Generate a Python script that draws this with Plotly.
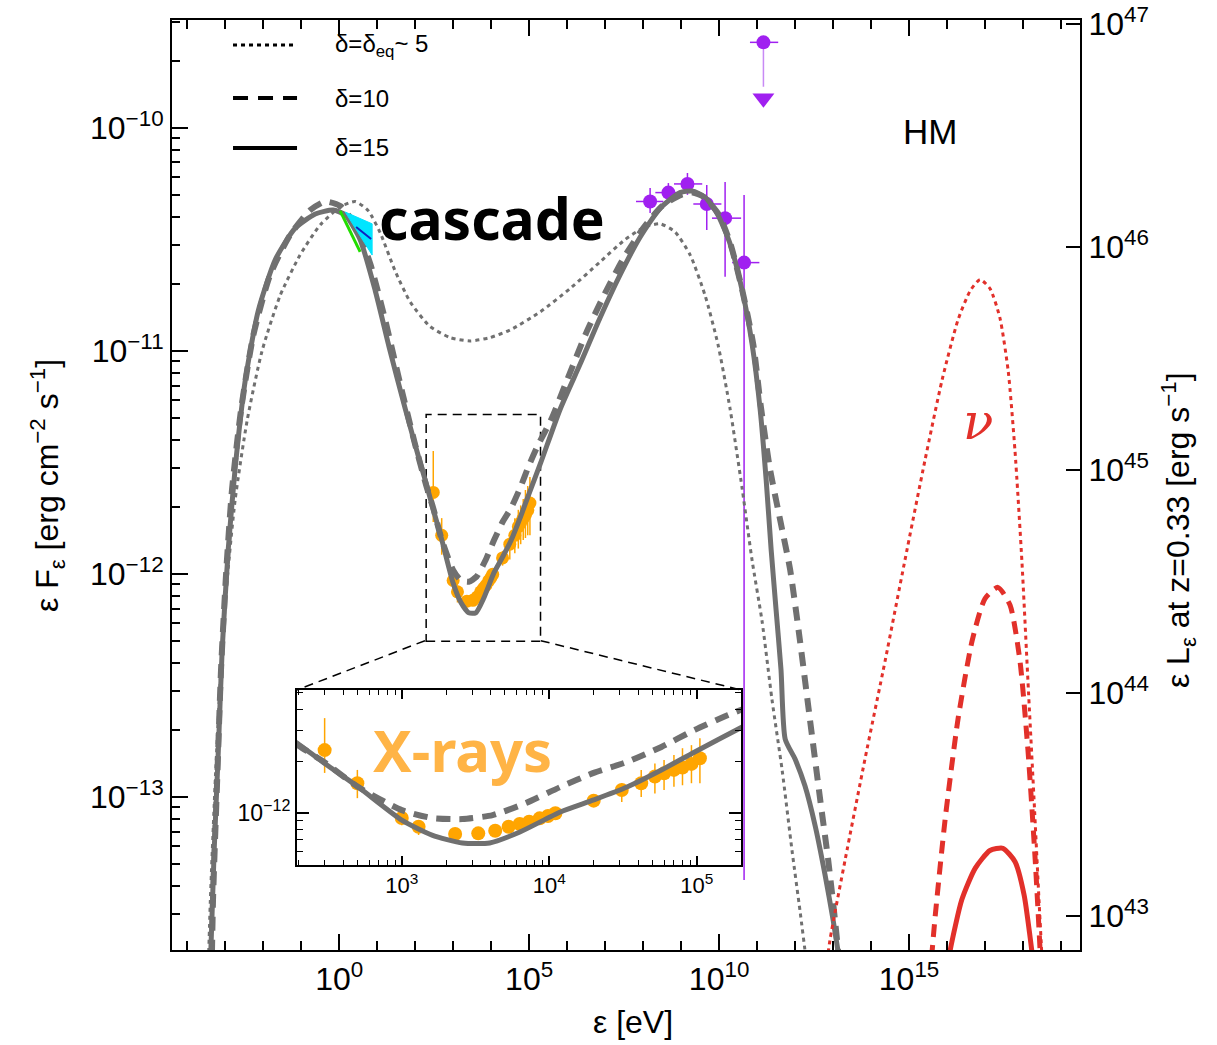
import numpy as np
import plotly.graph_objects as go

# ---------------------------------------------------------------------------
# Model SEDs: log10(energy / eV) and log10(eps F_eps / erg cm^-2 s^-1)
# ---------------------------------------------------------------------------
# delta = 15 (solid)
d15_log_e = [-3.42, -3.29, -3.18, -3.08, -2.92, -2.74, -2.47, -2.13, -1.68, -1.16,
             -0.63, -0.16, 0.16, 0.55, 0.95, 1.34, 1.74, 2.13,
             2.292, 2.473, 2.705, 3.0, 3.205, 3.411, 3.596, 3.801, 4.075, 4.301,
             4.527, 4.76, 4.986, 5.308,
             5.82, 6.34, 6.87, 7.39, 7.92, 8.45, 8.97, 9.29, 9.63, 9.97, 10.29,
             10.61, 10.87, 11.08, 11.24, 11.37, 11.50, 11.63, 11.74,
             12.0, 12.26, 12.53, 12.79, 13.0, 13.21, 13.32]
d15_log_f = [-13.91, -13.24, -12.79, -12.34, -11.89, -11.53, -11.13, -10.82, -10.59, -10.45,
             -10.386, -10.368, -10.39, -10.50, -10.73, -11.0, -11.26, -11.50,
             -11.595, -11.709, -11.849, -12.041, -12.128, -12.174, -12.174, -12.110, -11.994, -11.924,
             -11.849, -11.75, -11.645, -11.5,
             -11.26, -11.06, -10.85, -10.66, -10.49, -10.36, -10.29, -10.283, -10.31, -10.39, -10.52,
             -10.73, -10.97, -11.26, -11.58, -11.89, -12.16, -12.43, -12.74,
             -12.83, -12.95, -13.13, -13.35, -13.55, -13.78, -13.91]

# delta = 10 (dashed)
d10_log_e = [-3.37, -3.32, -3.21, -3.11, -2.97, -2.82, -2.58, -2.26, -1.82, -1.29,
             -0.76, -0.37, 0.03, 0.42, 0.82, 1.21, 1.61, 2.0,
             2.295, 2.473, 2.705, 3.0, 3.205, 3.411, 3.616, 3.842, 4.075, 4.301,
             4.527, 4.76, 4.986, 5.212,
             5.6, 6.0, 6.5, 7.0, 7.5, 8.0, 8.5, 9.0, 9.3, 9.6, 10.0, 10.3, 10.6,
             10.9, 11.1, 11.34, 11.61, 11.87, 12.13, 12.39, 12.66, 12.87, 13.05, 13.21]
d10_log_f = [-13.91, -13.46, -12.92, -12.43, -11.98, -11.62, -11.26, -10.93, -10.66, -10.48,
             -10.368, -10.33, -10.35, -10.435, -10.61, -10.86, -11.15, -11.42,
             -11.605, -11.703, -11.849, -11.983, -12.029, -12.035, -12.012, -11.942, -11.849, -11.767,
             -11.703, -11.616, -11.517, -11.43,
             -11.30, -11.13, -10.92, -10.74, -10.58, -10.45, -10.35, -10.30, -10.29, -10.31, -10.39,
             -10.52, -10.72, -10.97, -11.25, -11.53, -11.76, -11.98, -12.30, -12.65, -13.01,
             -13.28, -13.55, -13.82]

# delta = delta_eq ~ 5 (dotted)
d5_log_e = [-3.47, -3.39, -3.26, -3.13, -2.97, -2.74, -2.42, -2.03, -1.55, -1.03,
            -0.5, 0.03, 0.42, 0.76, 1.08, 1.47, 1.87, 2.39, 2.92, 3.45, 3.97, 4.5,
            5.29, 6.08, 6.87, 7.53, 8.05, 8.45, 8.84, 9.24, 9.63, 9.97, 10.29, 10.61,
            10.87, 11.13, 11.39, 11.66, 11.92, 12.13, 12.29, 12.39]
d5_log_f = [-13.91, -13.46, -12.92, -12.48, -12.07, -11.67, -11.31, -11.0, -10.75, -10.57,
            -10.435, -10.354, -10.33, -10.37, -10.47, -10.64, -10.78, -10.89, -10.94, -10.955,
            -10.94, -10.906, -10.825, -10.72, -10.60, -10.50, -10.444, -10.43, -10.466, -10.57,
            -10.75, -10.97, -11.26, -11.62, -11.94, -12.21, -12.56, -12.88, -13.24, -13.51,
            -13.73, -13.91]

# Neutrino spectra (all flavours) for the three Doppler factors
nu5_log_e = [12.71, 12.92, 13.32, 13.84, 14.37, 14.89, 15.42, 15.87, 16.29, 16.61, 16.87,
             17.13, 17.39, 17.61, 17.79, 17.97, 18.13, 18.29, 18.42, 18.53]
nu5_log_f = [-13.91, -13.64, -13.28, -12.83, -12.39, -11.94, -11.49, -11.13, -10.86, -10.73,
             -10.68, -10.72, -10.85, -11.09, -11.45, -11.94, -12.48, -13.01, -13.46, -13.82]
nu10_log_e = [15.5, 15.68, 15.95, 16.29, 16.66, 17.0, 17.34, 17.66, 17.92, 18.13, 18.32,
              18.45, 18.5]
nu10_log_f = [-13.91, -13.55, -13.10, -12.65, -12.30, -12.11, -12.06, -12.14, -12.39, -12.79,
              -13.28, -13.69, -13.91]
nu15_log_e = [15.89, 16.08, 16.39, 16.74, 17.13, 17.47, 17.79, 18.03, 18.18, 18.29, 18.34]
nu15_log_f = [-13.91, -13.69, -13.46, -13.32, -13.24, -13.23, -13.29, -13.44, -13.62,
              -13.78, -13.91]

# ---------------------------------------------------------------------------
# Observations
# ---------------------------------------------------------------------------
# X-ray spectrum [eV], eps F_eps and its 1-sigma upper / lower bounds
xray_e = [300, 500, 1000, 1300, 2300, 3300, 4300, 5300, 6300, 7300, 8600, 9800, 11000,
          20000, 31000, 42000, 52000, 60000, 70000, 80000, 92000, 105000]
xray_f = [2.32e-12, 1.49e-12, 9.35e-13, 8.32e-13, 7.55e-13, 7.62e-13, 7.89e-13, 8.32e-13,
          8.63e-13, 8.90e-13, 9.31e-13, 9.60e-13, 9.96e-13, 1.18e-12, 1.36e-12, 1.49e-12,
          1.63e-12, 1.70e-12, 1.78e-12, 1.84e-12, 1.93e-12, 2.08e-12]
xray_f_hi = [3.56e-12, 1.78e-12, 9.96e-13, 8.90e-13, 7.80e-13, 7.85e-13, 8.10e-13, 8.55e-13,
             8.87e-13, 9.15e-13, 9.57e-13, 9.88e-13, 1.03e-12, 1.27e-12, 1.49e-12, 1.78e-12,
             1.94e-12, 2.03e-12, 2.17e-12, 2.38e-12, 2.48e-12, 2.72e-12]
xray_f_lo = [1.71e-12, 1.22e-12, 8.50e-13, 7.45e-13, 7.30e-13, 7.40e-13, 7.68e-13, 8.10e-13,
             8.40e-13, 8.65e-13, 9.05e-13, 9.32e-13, 9.65e-13, 1.09e-12, 1.16e-12, 1.24e-12,
             1.30e-12, 1.36e-12, 1.42e-12, 1.45e-12, 1.49e-12, 1.49e-12]

# Gamma-ray spectrum: bin centre and edges [eV], flux and bounds
lat_e = [1.53e8, 4.63e8, 1.47e9, 4.74e9, 1.44e10, 4.55e10]
lat_e_lo = [6.5e7, 2.1e8, 6.5e8, 2.1e9, 6.5e9, 2.2e10]
lat_e_hi = [3.4e8, 1.05e9, 3.6e9, 1.15e10, 3.8e10, 1.15e11]
lat_f = [4.68e-11, 5.13e-11, 5.61e-11, 4.56e-11, 3.94e-11, 2.49e-11]
lat_f_hi = [5.38e-11, 5.66e-11, 6.28e-11, 5.55e-11, 5.73e-11, 5.01e-11]
lat_f_lo = [4.16e-11, 4.66e-11, 5.01e-11, 3.49e-11, 2.15e-11, 4.25e-14]

# Gamma-ray upper limit
ul_e, ul_e_lo, ul_e_hi = [1.47e11], [6.5e10], [3.6e11]
ul_f, ul_arrow_end, ul_arrow_head = [2.42e-10], [1.53e-10], [1.36e-10]

# Optical / UV bow-tie (log10 energy, log10 flux)
uv_log_e = [0.16, 0.868, 0.868]
uv_log_f = [-10.377, -10.43, -10.57]
opt_green_log_e = [0.026, 0.553]
opt_green_log_f = [-10.372, -10.556]
opt_blue_log_e = [0.447, 0.842]
opt_blue_log_f = [-10.444, -10.498]

# Energy / flux window of the zoomed X-ray panel (log10)
zoom_log_e = [2.29, 5.30]
zoom_log_f = [-12.302, -11.285]

# ---------------------------------------------------------------------------
GREY = "#707070"
RED = "#e2302a"
PURPLE = "#a020f0"
ORANGE = "#ffa500"
FONT = "Liberation Sans"


def lin(a):
    return np.power(10.0, np.asarray(a, dtype=float))


fig = go.Figure()

# --- data points (drawn underneath the model curves)
xf = np.asarray(xray_f)
for xa, ya, msize in (("x", "y", 13), ("x3", "y3", 14)):
    fig.add_trace(go.Scatter(
        x=xray_e, y=xray_f, xaxis=xa, yaxis=ya, mode="markers",
        marker=dict(color=ORANGE, size=msize),
        error_y=dict(type="data", symmetric=False,
                     array=np.asarray(xray_f_hi) - xf,
                     arrayminus=xf - np.asarray(xray_f_lo),
                     color=ORANGE, thickness=1.5, width=0),
        showlegend=False, hoverinfo="skip"))

le = np.asarray(lat_e)
lf = np.asarray(lat_f)
fig.add_trace(go.Scatter(
    x=lat_e, y=lat_f, mode="markers",
    marker=dict(color=PURPLE, size=14),
    error_x=dict(type="data", symmetric=False,
                 array=np.asarray(lat_e_hi) - le, arrayminus=le - np.asarray(lat_e_lo),
                 color=PURPLE, thickness=1.5, width=0),
    error_y=dict(type="data", symmetric=False,
                 array=np.asarray(lat_f_hi) - lf, arrayminus=lf - np.asarray(lat_f_lo),
                 color=PURPLE, thickness=1.5, width=0),
    showlegend=False, hoverinfo="skip"))

ue, uf = np.asarray(ul_e), np.asarray(ul_f)
fig.add_trace(go.Scatter(
    x=ul_e, y=ul_f, mode="markers",
    marker=dict(color=PURPLE, size=14),
    error_x=dict(type="data", symmetric=False,
                 array=np.asarray(ul_e_hi) - ue, arrayminus=ue - np.asarray(ul_e_lo),
                 color=PURPLE, thickness=1.5, width=0),
    error_y=dict(type="data", symmetric=False, array=[0],
                 arrayminus=uf - np.asarray(ul_arrow_end),
                 color="#c88af5", thickness=1.5, width=0),
    showlegend=False, hoverinfo="skip"))
fig.add_trace(go.Scatter(
    x=ul_e, y=ul_arrow_head, mode="markers",
    marker=dict(color=PURPLE, size=19, symbol="triangle-down"),
    showlegend=False, hoverinfo="skip"))

# --- model curves
curves = [
    (d5_log_e, d5_log_f, GREY, 3, "4px,4px"),
    (d10_log_e, d10_log_f, GREY, 6, "14px,9px"),
    (d15_log_e, d15_log_f, GREY, 5, "solid"),
    (nu5_log_e, nu5_log_f, RED, 3, "4px,4px"),
    (nu10_log_e, nu10_log_f, RED, 5, "13px,8px"),
    (nu15_log_e, nu15_log_f, RED, 5, "solid"),
]
for ce, cf, col, w, dash in curves:
    fig.add_trace(go.Scatter(
        x=lin(ce), y=lin(cf), mode="lines",
        line=dict(color=col, width=w, dash=dash, shape="spline", smoothing=0.6),
        showlegend=False, hoverinfo="skip", cliponaxis=True))

# zoomed X-ray view
for ce, cf, dash in ((d10_log_e, d10_log_f, "14px,9px"), (d15_log_e, d15_log_f, "solid")):
    fig.add_trace(go.Scatter(
        x=lin(ce), y=lin(cf), xaxis="x3", yaxis="y3", mode="lines",
        line=dict(color=GREY, width=5 if dash == "solid" else 6, dash=dash,
                  shape="spline", smoothing=0.6),
        showlegend=False, hoverinfo="skip"))

# optical / UV bow-tie
fig.add_trace(go.Scatter(
    x=lin(uv_log_e + uv_log_e[:1]), y=lin(uv_log_f + uv_log_f[:1]), mode="lines",
    fill="toself", fillcolor="#00e5ff", line=dict(color="#00e5ff", width=1),
    showlegend=False, hoverinfo="skip"))
fig.add_trace(go.Scatter(
    x=lin(opt_green_log_e), y=lin(opt_green_log_f), mode="lines",
    line=dict(color="#22dd00", width=3), showlegend=False, hoverinfo="skip"))
fig.add_trace(go.Scatter(
    x=lin(opt_blue_log_e), y=lin(opt_blue_log_f), mode="lines",
    line=dict(color="#1020c0", width=2), showlegend=False, hoverinfo="skip"))

# invisible anchor for the luminosity axis
fig.add_trace(go.Scatter(x=[1.0], y=[1e44], yaxis="y2", mode="markers",
                         marker=dict(opacity=0), showlegend=False, hoverinfo="skip"))

# ---------------------------------------------------------------------------
# Axes
# ---------------------------------------------------------------------------
def sup(n):
    s = str(n).replace("-", "\u2212")
    return f"10<sup>{s}</sup>"


x_major = [0, 5, 10, 15]
x_minor = [10.0 ** k for k in range(-4, 20) if k % 5 != 0]
y_major = [-13, -12, -11, -10]
y_minor = [m * 10.0 ** k for k in range(-14, -9) for m in range(2, 10)]
r_major = [43, 44, 45, 46, 47]
ix_major = [3, 4, 5]
ix_minor = [m * 10.0 ** k for k in range(2, 6) for m in range(2, 10)]
iy_minor = [m * 1e-13 for m in range(5, 10)] + [m * 1e-12 for m in range(2, 6)]

tickfont = dict(family=FONT, size=32, color="black")
common = dict(showline=True, linecolor="black", linewidth=2, ticks="inside",
              tickcolor="black", tickwidth=2, showgrid=False, zeroline=False,
              automargin=False)

fig.update_layout(
    width=1217, height=1045,
    margin=dict(l=172, r=137, t=20, b=95, autoexpand=False),
    paper_bgcolor="white", plot_bgcolor="white",
    showlegend=False,
    xaxis=dict(type="log", range=[-4.4, 19.5], domain=[0, 1], anchor="y",
               tickmode="array", tickvals=[10.0 ** k for k in x_major],
               ticktext=[sup(k) for k in x_major], ticklen=16, mirror="ticks",
               minor=dict(tickmode="array", tickvals=x_minor, ticklen=9,
                          tickwidth=1.5, tickcolor="black", ticks="inside"),
               tickfont=tickfont, **common),
    yaxis=dict(type="log", range=[-13.686, -9.516], domain=[0, 1], anchor="x",
               tickmode="array", tickvals=[10.0 ** k for k in y_major],
               ticktext=[sup(k) for k in y_major], ticklen=16,
               minor=dict(tickmode="array", tickvals=y_minor, ticklen=8,
                          tickwidth=1.5, tickcolor="black", ticks="inside"),
               tickfont=tickfont, **common),
    yaxis2=dict(type="log", range=[42.848, 47.018], overlaying="y", side="right",
                anchor="x", tickmode="array", tickvals=[10.0 ** k for k in r_major],
                ticktext=[sup(k) for k in r_major], ticklen=14,
                tickfont=tickfont, **common),
    xaxis3=dict(type="log", range=zoom_log_e, domain=[0.1377, 0.6267], anchor="y3",
                tickmode="array", tickvals=[10.0 ** k for k in ix_major],
                ticktext=[sup(k) for k in ix_major], ticklen=9, mirror="ticks",
                minor=dict(tickmode="array", tickvals=ix_minor, ticklen=5,
                           tickwidth=1.2, tickcolor="black", ticks="inside"),
                tickfont=dict(family=FONT, size=22, color="black"), **common),
    yaxis3=dict(type="log", range=zoom_log_f, domain=[0.0914, 0.2796],
                anchor="x3", tickmode="array", tickvals=[1e-12],
                ticktext=[sup(-12)], ticklen=12, mirror="ticks",
                minor=dict(tickmode="array", tickvals=iy_minor, ticklen=6,
                           tickwidth=1.2, tickcolor="black", ticks="inside"),
                tickfont=dict(family=FONT, size=23, color="black"), **common),
)

# ---------------------------------------------------------------------------
# Shapes: zoom box, connectors, legend keys
# ---------------------------------------------------------------------------
box = dict(color="black", width=1.5, dash="9px,6px")
zx = lin(zoom_log_e)
zy = lin(zoom_log_f)
fig.add_shape(type="rect", xref="x", yref="y", x0=zx[0], x1=zx[1], y0=zy[0], y1=zy[1],
              line=box, layer="below")
# connectors from the box's lower corners to the panel's upper corners
fig.add_shape(type="line", xref="paper", yref="paper", x0=0.2786, y0=0.3326,
              x1=0.1377, y1=0.2796, line=box)
fig.add_shape(type="line", xref="paper", yref="paper", x0=0.4061, y0=0.3326,
              x1=0.6267, y1=0.2796, line=box)

legend_rows = [("4px,4px", 3, 0.9731, "\u03b4=\u03b4<sub>eq</sub>~ 5"),
               ("15px,10px", 4, 0.9161, "\u03b4=10"),
               ("solid", 4, 0.8624, "\u03b4=15")]
for dash, w, yy, label in legend_rows:
    fig.add_shape(type="line", xref="paper", yref="paper", x0=0.0672, x1=0.1377,
                  y0=yy, y1=yy, line=dict(color="black", width=w, dash=dash))
    fig.add_annotation(xref="paper", yref="paper", x=0.1773, y=yy, text=label,
                       showarrow=False, xanchor="left", yanchor="middle",
                       font=dict(family=FONT, size=24, color="black"))

# ---------------------------------------------------------------------------
# Labels
# ---------------------------------------------------------------------------
fig.add_annotation(xref="paper", yref="paper", x=0.3524, y=0.787, text="<b>cascade</b>",
                   showarrow=False, xanchor="center", yanchor="middle",
                   font=dict(family="Noto Sans", size=57, color="black"))
fig.add_annotation(xref="paper", yref="paper", x=0.3194, y=0.2151, text="<b>X-rays</b>",
                   showarrow=False, xanchor="center", yanchor="middle",
                   font=dict(family="Noto Sans", size=58, color="#ffb446"))
fig.add_annotation(xref="paper", yref="paper", x=0.8348, y=0.8796, text="HM",
                   showarrow=False, xanchor="center", yanchor="middle",
                   font=dict(family=FONT, size=35, color="black"))
fig.add_annotation(xref="paper", yref="paper", x=0.8877, y=0.5677, text="<i>\u03bd</i>",
                   showarrow=False, xanchor="center", yanchor="middle",
                   font=dict(family="DejaVu Serif", size=50, color=RED))

fig.add_annotation(xref="paper", yref="paper", x=0.508, y=-0.0774, text="\u03b5 [eV]",
                   showarrow=False, xanchor="center", yanchor="middle",
                   font=dict(family=FONT, size=32, color="black"))
fig.add_annotation(xref="paper", yref="paper", x=-0.1377, y=0.5,
                   text="\u03b5 F<sub>\u03b5</sub> [erg cm<sup>\u22122</sup> s<sup>\u22121</sup>]",
                   showarrow=False, textangle=-90, xanchor="center", yanchor="middle",
                   font=dict(family=FONT, size=32, color="black"))
fig.add_annotation(xref="paper", yref="paper", x=1.108, y=0.4516,
                   text="\u03b5 L<sub>\u03b5</sub> at z=0.33 [erg s<sup>\u22121</sup>]",
                   showarrow=False, textangle=-90, xanchor="center", yanchor="middle",
                   font=dict(family=FONT, size=32, color="black"))

fig.write_html("out.html")
